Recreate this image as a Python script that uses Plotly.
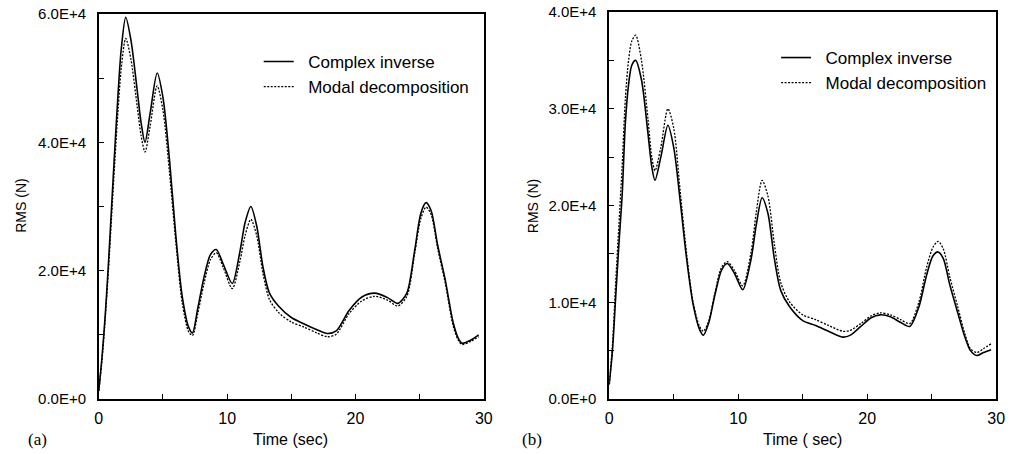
import plotly.graph_objects as go

# ---------------- data (values in N) ----------------
time_a = [0, 0.25, 0.5, 0.75, 1.0, 1.25, 1.5, 1.75, 2.1, 2.5, 3.0, 3.3, 3.6, 4.0, 4.55,
          5.0, 5.5, 6.0, 6.5, 7.0, 7.3, 7.7, 8.2, 8.7, 9.15, 9.7, 10.4, 11.0, 11.4, 11.85,
          12.3, 12.8, 13.3, 14.0, 15.0, 16.0, 17.0, 17.8, 18.5, 19.5, 20.5, 21.5, 22.5,
          23.3, 24.0, 24.6, 25.1, 25.5, 25.9, 26.4, 27.0, 27.6, 28.0, 28.3, 29.0, 29.6]
complex_a = [0.13, 0.65, 1.3, 2.1, 3.0, 3.9, 4.75, 5.45, 5.95, 5.6, 4.8, 4.3, 4.0, 4.45, 5.08,
             4.7, 3.75, 2.55, 1.6, 1.12, 1.03, 1.4, 1.9, 2.25, 2.33, 2.1, 1.8, 2.3, 2.75, 3.0,
             2.7, 2.05, 1.65, 1.45, 1.27, 1.17, 1.08, 1.02, 1.06, 1.38, 1.59, 1.65, 1.58,
             1.49, 1.65, 2.3, 2.9, 3.06, 2.93, 2.4, 1.85, 1.2, 0.95, 0.87, 0.92, 1.0]
modal_a = [0.12, 0.6, 1.25, 2.0, 2.85, 3.7, 4.5, 5.15, 5.62, 5.3, 4.55, 4.1, 3.85, 4.25, 4.88,
           4.5, 3.55, 2.45, 1.5, 1.05, 0.99, 1.32, 1.8, 2.17, 2.28, 2.05, 1.72, 2.15, 2.55, 2.8,
           2.55, 1.95, 1.55, 1.35, 1.2, 1.12, 1.03, 0.97, 1.01, 1.33, 1.53, 1.6, 1.54,
           1.45, 1.6, 2.25, 2.82, 2.99, 2.87, 2.35, 1.8, 1.15, 0.92, 0.85, 0.9, 0.97]

time_b = [0, 0.25, 0.5, 0.75, 1.0, 1.25, 1.5, 1.75, 2.05, 2.5, 3.0, 3.3, 3.55, 4.0, 4.55,
          5.0, 5.5, 6.0, 6.5, 7.0, 7.3, 7.7, 8.2, 8.7, 9.15, 9.7, 10.35, 11.0, 11.4, 11.85,
          12.3, 12.8, 13.3, 14.0, 15.0, 16.0, 17.0, 18.1, 18.7, 19.5, 20.3, 21.0, 21.8,
          22.6, 23.3, 24.0, 24.6, 25.1, 25.5, 25.9, 26.4, 27.0, 27.6, 28.0, 28.5, 29.0, 29.6]
complex_b = [0.15, 0.5, 1.05, 1.6, 2.1, 2.85, 3.25, 3.45, 3.5, 3.3, 2.75, 2.4, 2.26, 2.5, 2.83,
             2.6, 2.05, 1.45, 0.98, 0.72, 0.66, 0.78, 1.08, 1.33, 1.40, 1.3, 1.13, 1.45, 1.8, 2.08,
             1.92, 1.45, 1.12, 0.95, 0.81, 0.76, 0.70, 0.64, 0.66, 0.75, 0.84, 0.87, 0.85,
             0.79, 0.75, 0.95, 1.28, 1.48, 1.52, 1.45, 1.18, 0.9, 0.63, 0.5, 0.45, 0.48, 0.51]
modal_b = [0.15, 0.55, 1.2, 1.8, 2.4, 3.1, 3.5, 3.7, 3.76, 3.5, 2.9, 2.5, 2.36, 2.6, 3.0,
           2.8, 2.15, 1.5, 1.0, 0.75, 0.70, 0.8, 1.1, 1.36, 1.42, 1.33, 1.17, 1.52, 1.93, 2.26,
           2.1, 1.6, 1.2, 1.0, 0.87, 0.82, 0.76, 0.70, 0.71, 0.78, 0.86, 0.89, 0.87,
           0.82, 0.78, 1.0, 1.36, 1.57, 1.63, 1.55, 1.26, 0.96, 0.66, 0.52, 0.48, 0.52, 0.57]

SCALE = 1e4
x_ticks = [0, 5, 10, 15, 20, 25, 30]
x_ticktext = ["0", "", "10", "", "20", "", "30"]
ya_ticks = [0, 1e4, 2e4, 3e4, 4e4, 5e4, 6e4]
ya_ticktext = ["0.0E+0", "", "2.0E+4", "", "4.0E+4", "", "6.0E+4"]
yb_ticks = [0, 0.5e4, 1e4, 1.5e4, 2e4, 2.5e4, 3e4, 3.5e4, 4e4]
yb_ticktext = ["0.0E+0", "", "1.0E+4", "", "2.0E+4", "", "3.0E+4", "", "4.0E+4"]

NB = "\u00a0\u00a0"
FONT = "Liberation Sans, Arial, sans-serif"
SERIF = "Liberation Serif, Times New Roman, serif"

fig = go.Figure()
fig.add_trace(go.Scatter(x=time_a, y=[v * SCALE for v in complex_a], mode="lines",
                         name=NB + "Complex inverse", line=dict(color="black", width=1.6, shape="spline", smoothing=0.8),
                         xaxis="x", yaxis="y", legend="legend", legendgroup="a1"))
fig.add_trace(go.Scatter(x=time_a, y=[v * SCALE for v in modal_a], mode="lines",
                         name=NB + "Modal decomposition", line=dict(color="black", width=1.3, dash="2px,1.5px", shape="spline", smoothing=0.8),
                         xaxis="x", yaxis="y", legend="legend", legendgroup="a2"))
fig.add_trace(go.Scatter(x=time_b, y=[v * SCALE for v in complex_b], mode="lines",
                         name=NB + "Complex inverse", line=dict(color="black", width=1.6, shape="spline", smoothing=0.8),
                         xaxis="x2", yaxis="y2", legend="legend2", legendgroup="b1"))
fig.add_trace(go.Scatter(x=time_b, y=[v * SCALE for v in modal_b], mode="lines",
                         name=NB + "Modal decomposition", line=dict(color="black", width=1.3, dash="2px,1.5px", shape="spline", smoothing=0.8),
                         xaxis="x2", yaxis="y2", legend="legend2", legendgroup="b2"))

H_TOP, H_BOT = 12, 55
PH = 454 - H_TOP - H_BOT
def py(px):
    return (454 - H_BOT - px) / PH

axis_common = dict(showline=True, linecolor="black", linewidth=1.5, mirror=True,
                   ticks="inside", ticklen=5, tickwidth=1, tickcolor="black",
                   showgrid=False, zeroline=False)

def label(text, xpx, ypx, size, angle=0, family=FONT):
    return dict(text=text, x=xpx / 1024, y=py(ypx), xref="paper", yref="paper",
                xanchor="center", yanchor="middle", textangle=angle,
                showarrow=False, font=dict(size=size, family=family))

fig.update_layout(
    width=1024, height=454, margin=dict(l=0, r=0, t=H_TOP, b=H_BOT),
    paper_bgcolor="white", plot_bgcolor="white",
    font=dict(family=FONT, color="black"),
    xaxis=dict(domain=[96 / 1024, 486 / 1024], range=[0, 30], tickvals=x_ticks, ticktext=x_ticktext,
               tickfont=dict(size=16), ticklabelstandoff=4, anchor="y", **axis_common),
    yaxis=dict(domain=[0, py(14)], range=[0, 6e4], tickvals=ya_ticks, ticktext=ya_ticktext,
               tickfont=dict(size=15), ticklabelstandoff=8, anchor="x", **axis_common),
    xaxis2=dict(domain=[613 / 1024, 1005 / 1024], range=[0, 30], tickvals=x_ticks, ticktext=x_ticktext,
                tickfont=dict(size=16), ticklabelstandoff=4, anchor="y2", **axis_common),
    yaxis2=dict(domain=[0, 1], range=[0, 4e4], tickvals=yb_ticks, ticktext=yb_ticktext,
                tickfont=dict(size=15), ticklabelstandoff=8, anchor="x2", **axis_common),
    legend=dict(x=258 / 1024, y=py(44), xanchor="left", yanchor="top", bgcolor="rgba(0,0,0,0)",
                font=dict(size=17), traceorder="grouped", tracegroupgap=0, itemwidth=30),
    legend2=dict(x=782 / 1024, y=py(40), xanchor="left", yanchor="top", bgcolor="rgba(0,0,0,0)",
                 font=dict(size=17), traceorder="grouped", tracegroupgap=0, itemwidth=30),
    annotations=[
        label("RMS (N)", 17, 206, 14, angle=-90),
        label("RMS (N)", 536, 206, 14, angle=-90),
        label("Time (sec)", 290, 440, 16),
        label("Time ( sec)", 809, 440, 16),
        label("(a)", 34, 439, 17, family=SERIF),
        label("(b)", 535, 439, 17, family=SERIF),
    ],
)

fig.write_html("out.html", config={"displayModeBar": False},
               post_script="document.body.style.margin='0';document.body.style.overflow='hidden';")
